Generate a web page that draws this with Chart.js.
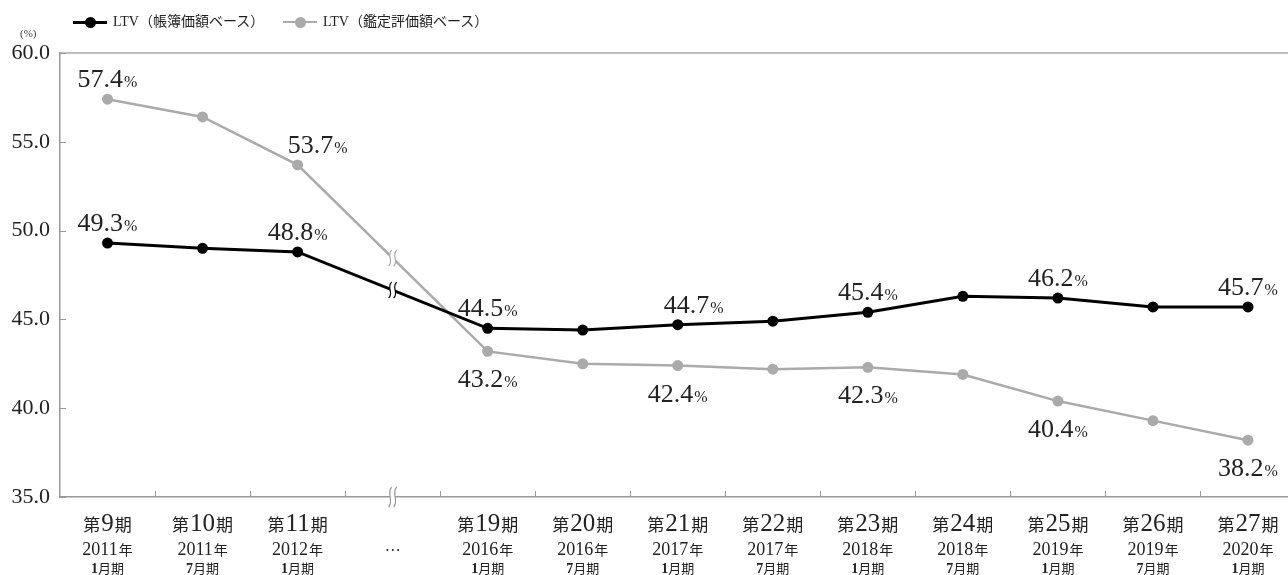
<!DOCTYPE html>
<html lang="ja">
<head>
<meta charset="UTF-8">
<title>LTV推移</title>
<script src="https://cdn.jsdelivr.net/npm/chart.js@4.4.1/dist/chart.umd.min.js"></script>
<style>
  html, body { margin: 0; padding: 0; background: #fff; overflow: hidden; }
  #wrap { position: relative; width: 1301px; height: 575px; }
  .legend { position: absolute; top: 13px; height: 18px; line-height: 18px; font-size: 14px; color: #222;
            font-family: "Liberation Serif", "Noto Sans CJK JP", serif; display: flex; align-items: center; white-space: nowrap; }
  .key { position: relative; display: inline-block; width: 34px; height: 3px; margin-right: 6px; }
  .key::after { content: ''; position: absolute; left: 12px; top: -4px; width: 11px; height: 11px; border-radius: 50%; background: inherit; }
  .unit { position: absolute; left: 20px; top: 27px; font-size: 11px; color: #444; font-family: "Liberation Serif", serif; }
</style>
</head>
<body>
<div id="wrap">
  <div class="legend" style="left:73px;"><span class="key" style="background:#000;"></span>LTV（帳簿価額ベース）</div>
  <div class="legend" style="left:283px;"><span class="key" style="background:#aaa; height:2px;"></span>LTV（鑑定評価額ベース）</div>
  <div class="unit">(%)</div>
  <canvas id="ltvChart"></canvas>
</div>
<script>
  // categories (period / fiscal year / half)
  const periods = ['第9期', '第10期', '第11期', '', '第19期', '第20期', '第21期', '第22期', '第23期', '第24期', '第25期', '第26期', '第27期'];
  const years   = ['2011年', '2011年', '2012年', '…', '2016年', '2016年', '2017年', '2017年', '2018年', '2018年', '2019年', '2019年', '2020年'];
  const months  = ['1月期', '7月期', '1月期', '', '1月期', '7月期', '1月期', '7月期', '1月期', '7月期', '1月期', '7月期', '1月期'];

  // LTV values (%), null = omitted periods
  const ltvBook      = [49.3, 49.0, 48.8, null, 44.5, 44.4, 44.7, 44.9, 45.4, 46.3, 46.2, 45.7, 45.7];
  const ltvAppraisal = [57.4, 56.4, 53.7, null, 43.2, 42.5, 42.4, 42.2, 42.3, 41.9, 40.4, 39.3, 38.2];
  const labelled = [0, 2, 4, 6, 8, 10, 12];
  const yMin = 35, yMax = 60, yStep = 5;

  const SERIF = '"Liberation Serif", "DejaVu Serif", serif';
  const CJK = '"Noto Sans CJK JP", sans-serif';
  const AXIS = '#999';
  const breakIdx = periods.indexOf('');

  function drawParts(ctx, parts, cx, baseline, gap) {
    let w = 0;
    parts.forEach(p => { ctx.font = p.font; p.w = ctx.measureText(p.t).width; w += p.w; });
    w += gap * (parts.length - 1);
    let x = cx - w / 2;
    ctx.textAlign = 'left';
    ctx.textBaseline = 'alphabetic';
    parts.forEach(p => { ctx.font = p.font; ctx.fillText(p.t, x, baseline); x += p.w + gap; });
  }

  function breakMark(ctx, x, y, h, color) {
    const s = (dx) => {
      ctx.beginPath();
      ctx.moveTo(x + dx + 1.5, y - h / 2);
      ctx.bezierCurveTo(x + dx - 4, y - h / 6, x + dx + 4, y + h / 6, x + dx - 1.5, y + h / 2);
    };
    ctx.save();
    ctx.strokeStyle = '#fff';
    ctx.lineWidth = 5;
    s(0); ctx.stroke();
    ctx.strokeStyle = color;
    ctx.lineWidth = 1.2;
    s(-2.5); ctx.stroke();
    s(2.5); ctx.stroke();
    ctx.restore();
  }

  const decorPlugin = {
    id: 'decor',
    afterDraw(chart) {
      const ctx = chart.ctx;
      const area = chart.chartArea;
      const xs = chart.scales.x, ys = chart.scales.y;
      ctx.save();
      // top frame line
      ctx.strokeStyle = '#aaa';
      ctx.lineWidth = 1.5;
      ctx.beginPath(); ctx.moveTo(area.left, area.top); ctx.lineTo(area.right, area.top); ctx.stroke();
      // inward ticks
      ctx.strokeStyle = AXIS;
      ctx.lineWidth = 1;
      ys.ticks.forEach(t => {
        const y = Math.round(ys.getPixelForValue(t.value)) + 0.5;
        ctx.beginPath(); ctx.moveTo(area.left, y); ctx.lineTo(area.left + 6, y); ctx.stroke();
      });
      for (let i = 0; i < periods.length - 1; i++) {
        const x = Math.round((xs.getPixelForTick(i) + xs.getPixelForTick(i + 1)) / 2) + 0.5;
        ctx.beginPath(); ctx.moveTo(x, area.bottom); ctx.lineTo(x, area.bottom - 6); ctx.stroke();
      }
      // axis break
      breakMark(ctx, xs.getPixelForTick(breakIdx), area.bottom, 20, AXIS);

      // x tick labels
      ctx.fillStyle = '#222';
      periods.forEach((p, i) => {
        const cx = xs.getPixelForTick(i);
        const m1 = p.match(/^(第)(\d+)(期)$/);
        if (m1) drawParts(ctx, [
          { t: m1[1], font: '17px ' + CJK }, { t: m1[2], font: '25px ' + SERIF }, { t: m1[3], font: '17px ' + CJK }
        ], cx, 531, 1);
        const m2 = years[i].match(/^(\d+)(年)$/);
        if (m2) drawParts(ctx, [{ t: m2[1], font: '18px ' + SERIF }, { t: m2[2], font: '14px ' + CJK }], cx, 555, 1);
        else if (years[i]) drawParts(ctx, [{ t: years[i], font: '16px ' + SERIF }], cx, 551, 0);
        const m3 = months[i].match(/^(\d+)(月期)$/);
        if (m3) drawParts(ctx, [{ t: m3[1], font: 'bold 14px ' + SERIF }, { t: m3[2], font: '13px ' + CJK }], cx, 573, 0);
      });
      ctx.restore();
    },
    afterDatasetsDraw(chart) {
      const ctx = chart.ctx;
      ctx.save();
      chart.data.datasets.forEach((ds, di) => {
        const meta = chart.getDatasetMeta(di);
        const pts = meta.data;
        // break marks on the line across the omitted periods
        const a = pts[breakIdx - 1], b = pts[breakIdx + 1];
        breakMark(ctx, (a.x + b.x) / 2, (a.y + b.y) / 2, 16, ds.borderColor);
        // value labels
        ctx.fillStyle = '#222';
        labelled.forEach(i => {
          const p = pts[i];
          const above = di === 0 || i < breakIdx;
          const base = above ? p.y - 12 : p.y + 36;
          const shift = (ds.labelShift && ds.labelShift[i]) || 0;
          drawParts(ctx, [
            { t: ds.data[i].toFixed(1), font: '26px ' + SERIF },
            { t: '%', font: '16px ' + SERIF }
          ], p.x + shift, base, 1);
        });
      });
      ctx.restore();
    }
  };

  new Chart(document.getElementById('ltvChart'), {
    type: 'line',
    data: {
      labels: periods.map((p, i) => [p, years[i], months[i]]),
      datasets: [{
        label: 'LTV（帳簿価額ベース）',
        data: ltvBook,
        borderColor: '#000',
        backgroundColor: '#000',
        borderWidth: 3,
        pointRadius: 5.5,
        pointBorderWidth: 0,
        spanGaps: true,
        tension: 0,
        labelShift: { 6: 16 }
      }, {
        label: 'LTV（鑑定評価額ベース）',
        data: ltvAppraisal,
        borderColor: '#aaaaaa',
        backgroundColor: '#aaaaaa',
        borderWidth: 2.5,
        pointRadius: 5.5,
        pointBorderWidth: 0,
        spanGaps: true,
        tension: 0,
        labelShift: { 2: 20 }
      }]
    },
    options: {
      responsive: true,
      maintainAspectRatio: false,
      animation: false,
      layout: { padding: { top: 53, right: 1, left: 0, bottom: 0 } },
      plugins: { legend: { display: false }, tooltip: { enabled: false } },
      scales: {
        x: {
          type: 'category',
          offset: true,
          grid: { display: false },
          border: { display: true, color: AXIS, width: 1.5 },
          ticks: { display: false },
          afterFit: s => { s.height = 78; }
        },
        y: {
          min: yMin,
          max: yMax,
          grid: { display: false, drawTicks: false },
          border: { display: true, color: AXIS, width: 1.5 },
          ticks: {
            stepSize: yStep,
            padding: 10,
            color: '#222',
            font: { family: SERIF, size: 22 },
            callback: v => v.toFixed(1)
          },
          afterFit: s => { s.width = 60; }
        }
      }
    },
    plugins: [decorPlugin]
  });
</script>
</body>
</html>
